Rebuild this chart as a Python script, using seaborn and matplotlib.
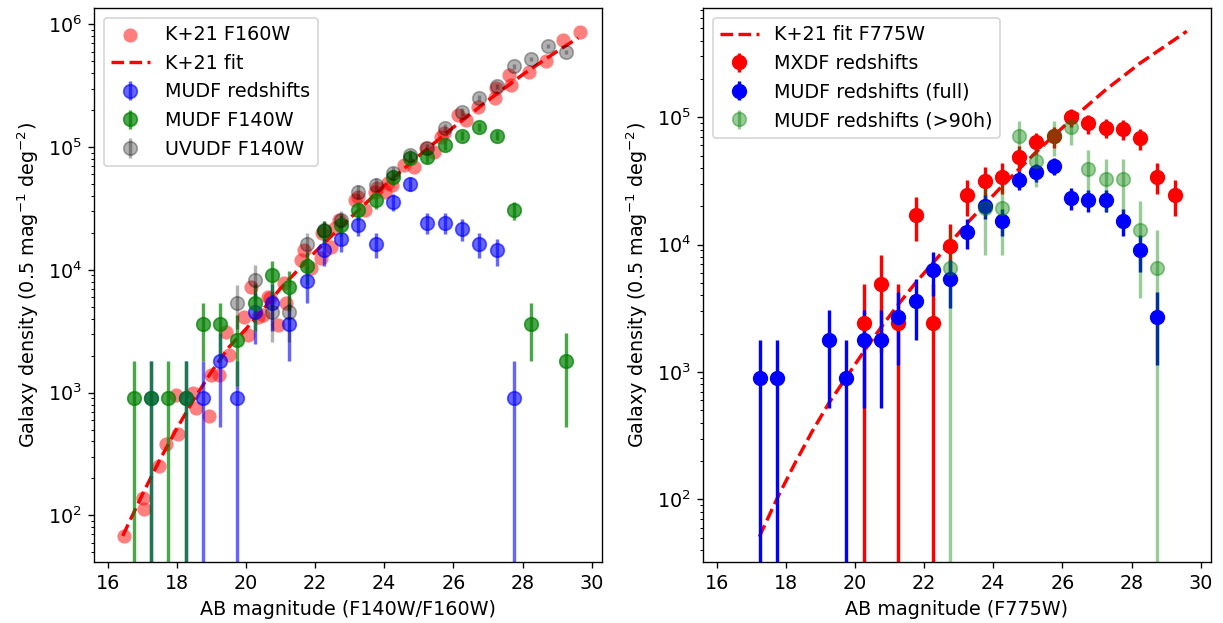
import numpy as np
import matplotlib
matplotlib.use("Agg")
import matplotlib.pyplot as plt
import seaborn as sns

# ---------------- Left panel data ----------------
k21_mag = [16.48, 17.01, 17.04, 17.49, 17.67, 17.98, 18.03, 18.46, 18.56, 18.94,
           18.99, 19.23, 19.42, 19.52, 19.95, 20.05, 20.15, 20.34, 20.49, 20.63,
           20.68, 20.92, 21.11, 21.16, 21.59, 21.67, 21.88, 22.17, 22.20, 22.46,
           22.56, 22.70, 23.14, 23.24, 23.43, 23.72, 23.78, 24.01, 24.10, 24.23,
           24.58, 24.87, 25.21, 25.45, 25.65, 25.74, 26.13, 26.37, 26.71, 27.19,
           27.24, 27.62, 27.67, 28.19, 28.67, 29.17, 29.65]
k21_val = [68, 138, 112, 253, 382, 957, 460, 988, 746, 646,
           1393, 1393, 3140, 2030, 4160, 2950, 7310, 4160, 4300, 6050,
           5880, 3560, 7800, 5350, 12100, 14550, 10300, 12400, 19900, 15500,
           21900, 25600, 37200, 39500, 30800, 43400, 46300, 43400, 50900, 49000,
           71800, 69500, 98200, 92000, 122000, 130000, 183000, 167000, 214000, 251000,
           303000, 388000, 322000, 413000, 499000, 748000, 875000]

fit_mag = [16.43, 17.0, 17.5, 18.0, 18.5, 19.0, 19.5, 20.0, 20.5, 21.0,
           22.0, 23.0, 24.0, 25.0, 26.0, 27.0, 28.0, 29.0, 29.61]
fit_val = [68, 148, 282, 513, 891, 1480, 2340, 3310, 4790, 7080,
           14000, 26300, 48400, 85100, 145000, 240000, 389000, 603000, 776000]

mudfz_mag = [17.25, 18.25, 18.75, 19.25, 19.75, 20.25, 20.75, 21.25, 21.75, 22.25,
             22.75, 23.25, 23.75, 24.25, 24.75, 25.25, 25.75, 26.25, 26.75, 27.25, 27.75]
mudfz_val = [900, 900, 900, 1800, 900, 4500, 5400, 3600, 8100, 14400,
             18000, 23400, 16200, 36000, 50400, 24300, 24300, 21600, 16200, 14400, 900]
mudfz_err = [900, 900, 900, 1273, 900, 2012, 2205, 1800, 2700, 3600,
             4025, 4589, 3818, 5692, 6735, 4677, 4677, 4409, 3818, 3600, 900]

f140_mag = [16.75, 17.25, 17.75, 18.25, 18.75, 19.25, 19.75, 20.25, 20.75, 21.25,
            21.75, 22.25, 22.75, 23.25, 23.75, 24.25, 24.75, 25.25, 25.75, 26.25,
            26.75, 27.25, 27.75, 28.25, 29.25]
f140_val = [900, 900, 900, 900, 3600, 3600, 2700, 5400, 9000, 7200,
            10800, 20700, 23400, 30600, 36900, 56700, 81000, 82800, 104400, 124200,
            145800, 124200, 30600, 3600, 1800]
f140_err = [900, 900, 900, 900, 1800, 1800, 1559, 2205, 2846, 2546,
            3118, 4316, 4589, 5248, 5763, 7144, 8538, 8633, 9693, 10573,
            11455, 10573, 5248, 1800, 1273]

uvudf_mag = [19.75, 20.25, 20.75, 21.25, 21.75, 22.25, 22.75, 23.25, 23.75, 24.25,
             24.75, 25.25, 25.75, 26.25, 26.75, 27.25, 27.75, 28.25, 28.75, 29.25]
uvudf_val = [5400, 8300, 4500, 4500, 16300, 21000, 25600, 43400, 49300, 61400,
             86500, 98200, 143000, 195000, 251000, 312000, 454000, 521000, 670000, 601000]
uvudf_err = [2080, 2580, 1900, 1900, 3610, 4100, 4520, 5890, 6280, 7010,
             8320, 8860, 10700, 12500, 14200, 15800, 19100, 20400, 23200, 21900]

# ---------------- Right panel data ----------------
fit775_mag = [17.23, 17.73, 18.25, 18.75, 19.25, 19.75, 20.25, 20.75, 21.25, 21.75,
              22.25, 23.25, 24.25, 25.25, 26.25, 27.25, 28.25, 29.25, 29.60]
fit775_val = [51, 100, 190, 339, 575, 912, 1445, 2240, 3390, 5010,
              7160, 14800, 28800, 53700, 95500, 164000, 266000, 407000, 473000]

mxdf_mag = [20.25, 20.75, 21.25, 21.75, 22.25, 22.75, 23.25, 23.75, 24.25, 24.75,
            25.25, 25.75, 26.25, 26.75, 27.25, 27.75, 28.25, 28.75, 29.25]
mxdf_val = [2440, 4880, 2440, 17100, 2440, 9760, 24400, 31700, 34200, 48800,
            63400, 70800, 100000, 89300, 82900, 80500, 68300, 34200, 24400]
mxdf_err = [2440, 3450, 2440, 6460, 2440, 4880, 7720, 8800, 9140, 10900,
            12400, 13100, 15600, 14800, 14200, 14000, 12900, 9140, 7720]

mfull_mag = [17.25, 17.75, 19.25, 19.75, 20.25, 20.75, 21.25, 21.75, 22.25, 22.75,
             23.25, 23.75, 24.25, 24.75, 25.25, 25.75, 26.25, 26.75, 27.25, 27.75,
             28.25, 28.75]
mfull_val = [900, 900, 1800, 900, 1800, 1800, 2700, 3600, 6300, 5400,
             12600, 20200, 15300, 32400, 36900, 41400, 23400, 22500, 22500, 15300,
             9000, 2700]
mfull_err = [900, 900, 1273, 900, 1273, 1273, 1559, 1800, 2381, 2205,
             3367, 4264, 3711, 5400, 5763, 6104, 4589, 4500, 4500, 3711,
             2846, 1559]

m90_mag = [22.75, 23.75, 24.25, 24.75, 25.25, 25.75, 26.25, 26.75, 27.25, 27.75,
           28.25, 28.75]
m90_val = [6500, 19500, 19500, 71500, 45500, 71500, 84500, 39000, 32500, 32500,
           13000, 6500]
m90_err = [6500, 11260, 11260, 21560, 17200, 21560, 23440, 15920, 14530, 14530,
           9190, 6500]

xticks = [16, 18, 20, 22, 24, 26, 28, 30]

# ---------------- Figure ----------------
sns.set_style("ticks", {"axes.edgecolor": "black", "text.color": "black",
                        "xtick.color": "black", "ytick.color": "black",
                        "axes.labelcolor": "black"})
FS = 11.3
plt.rcParams['font.family'] = ['DejaVu Sans']
plt.rcParams['font.size'] = FS
plt.rcParams['axes.labelsize'] = FS
plt.rcParams['xtick.labelsize'] = FS
plt.rcParams['ytick.labelsize'] = FS
plt.rcParams['legend.fontsize'] = FS
plt.rcParams['xtick.major.size'] = 3.5
plt.rcParams['ytick.major.size'] = 3.5
plt.rcParams['ytick.minor.size'] = 2
plt.rcParams['xtick.major.width'] = 0.8
plt.rcParams['ytick.major.width'] = 0.8
plt.rcParams['ytick.minor.width'] = 0.6
plt.rcParams['axes.linewidth'] = 0.8

DPI = 122.3
fig = plt.figure(figsize=(1223 / DPI, 623 / DPI), dpi=DPI)
W, H = 1223.0, 623.0
ax1 = fig.add_axes([94 / W, (H - 562) / H, 508 / W, 554 / H])
ax2 = fig.add_axes([703 / W, (H - 562) / H, 508 / W, 554 / H])

ylab = r"Galaxy density (0.5 mag$^{-1}$ deg$^{-2}$)"
MS = 8
ELW = 2

# Left
ax1.set_yscale('log')
sns.scatterplot(x=k21_mag, y=k21_val, ax=ax1, color='red', alpha=0.5, s=70,
                linewidth=0, label='K+21 F160W', zorder=1)
sns.lineplot(x=fit_mag, y=fit_val, ax=ax1, color='red', linestyle='--', lw=2,
             label='K+21 fit', sort=True, estimator=None)
ax1.errorbar(mudfz_mag, mudfz_val, yerr=mudfz_err, fmt='o', color='blue', ms=MS,
             elinewidth=ELW, alpha=0.6, label='MUDF redshifts')
ax1.errorbar(f140_mag, f140_val, yerr=f140_err, fmt='o', color='green', ms=MS,
             elinewidth=ELW, alpha=0.7, label='MUDF F140W')
ax1.errorbar(uvudf_mag, uvudf_val, yerr=uvudf_err, fmt='o', color='black', ms=MS,
             elinewidth=ELW, alpha=0.3, label='UVUDF F140W')
ax1.set_xlim(15.6, 30.3)
ax1.set_ylim(41.7, 1.36e6)
ax1.set_xticks(xticks)
ax1.set_xlabel("AB magnitude (F140W/F160W)")
ax1.set_ylabel(ylab)
ax1.legend(loc='upper left')

# Right
ax2.set_yscale('log')
sns.lineplot(x=fit775_mag, y=fit775_val, ax=ax2, color='red', linestyle='--', lw=2,
             label='K+21 fit F775W', sort=True, estimator=None)
ax2.errorbar(mxdf_mag, mxdf_val, yerr=mxdf_err, fmt='o', color='red', ms=MS,
             elinewidth=ELW, label='MXDF redshifts')
ax2.errorbar(mfull_mag, mfull_val, yerr=mfull_err, fmt='o', color='blue', ms=MS,
             elinewidth=ELW, label='MUDF redshifts (full)')
ax2.errorbar(m90_mag, m90_val, yerr=m90_err, fmt='o', color='green', ms=MS,
             elinewidth=ELW, alpha=0.4, label='MUDF redshifts (>90h)')
ax2.set_xlim(15.6, 30.3)
ax2.set_ylim(32.3, 7.2e5)
ax2.set_xticks(xticks)
ax2.set_xlabel("AB magnitude (F775W)")
ax2.set_ylabel(ylab)
ax2.legend(loc='upper left')

for ax in (ax1, ax2):
    for s in ax.spines.values():
        s.set_visible(True)

fig.savefig("out.png", dpi=DPI)
